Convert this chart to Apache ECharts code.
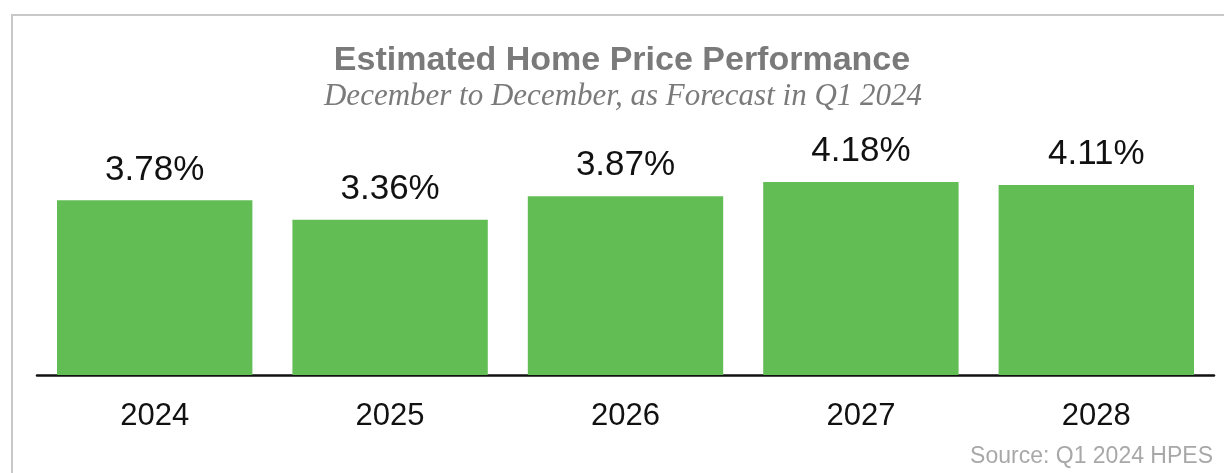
<!DOCTYPE html>
<html>
<head>
<meta charset="utf-8">
<script src="https://cdn.jsdelivr.net/npm/echarts@6/dist/echarts.min.js"></script>
<style>
html,body{margin:0;padding:0;background:#fff;}
#chart{width:1224px;height:473px;}
</style>
</head>
<body>
<div id="chart"></div>
<script>
const categories = ['2024', '2025', '2026', '2027', '2028'];
const values = [3.78, 3.36, 3.87, 4.18, 4.11];
const titleText = 'Estimated Home Price Performance';
const subtitleText = 'December to December, as Forecast in Q1 2024';
const sourceText = 'Source: Q1 2024 HPES';

const chart = echarts.init(document.getElementById('chart'), null, {renderer: 'canvas'});
chart.setOption({
  animation: false,
  backgroundColor: '#fff',
  grid: {left: 37, right: 10, top: 144, bottom: 98, containLabel: false},
  xAxis: {
    type: 'category',
    data: categories,
    axisLine: {show: true, lineStyle: {color: '#111', width: 2.5}},
    axisTick: {show: false},
    axisLabel: {color: '#111', fontSize: 31, fontFamily: 'Liberation Sans, Arial, sans-serif', margin: 26}
  },
  yAxis: {
    type: 'value', min: 0, max: 5,
    show: false,
    splitLine: {show: false}
  },
  series: [{
    type: 'bar',
    data: values,
    barCategoryGap: '17%',
    itemStyle: {color: '#62bd55'},
    label: {
      show: true, position: 'top', distance: 13,
      color: '#111', fontSize: 35,
      fontFamily: 'Liberation Sans, Arial, sans-serif',
      formatter: p => p.value.toFixed(2) + '%'
    }
  }],
  graphic: [
    {type: 'rect', shape: {x: 12, y: 15, width: 1240, height: 500},
     style: {fill: 'none', stroke: '#c8c8c8', lineWidth: 2}, silent: true},
    {type: 'text', x: 622, y: 61,
     style: {text: titleText, fill: '#7a7a7a', font: 'bold 34px "Liberation Sans", Arial, sans-serif',
             textAlign: 'center', textVerticalAlign: 'middle'}},
    {type: 'text', x: 623, y: 97,
     style: {text: subtitleText, fill: '#7a7a7a', font: 'italic 31px "Liberation Serif", "Times New Roman", serif',
             textAlign: 'center', textVerticalAlign: 'middle'}},
    {type: 'text', x: 1213, y: 457,
     style: {text: sourceText, fill: '#a8a8a8', font: '23px "Liberation Sans", Arial, sans-serif',
             textAlign: 'right', textVerticalAlign: 'middle'}}
  ]
});
</script>
</body>
</html>
